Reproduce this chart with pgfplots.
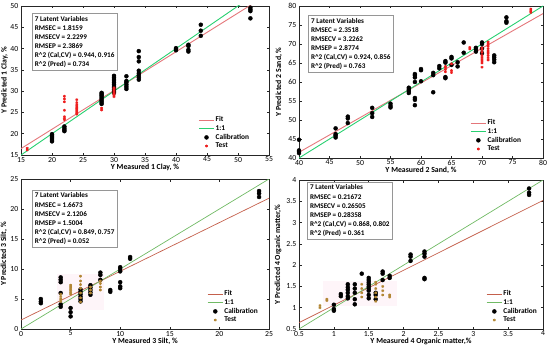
\documentclass[border=0pt]{standalone}
\usepackage{fontspec}
\setmainfont{Carlito}
\usepackage{pgfplots}
\pgfplotsset{compat=1.18}
\definecolor{fitA}{RGB}{228,118,122}
\definecolor{oneA}{RGB}{40,208,112}
\definecolor{testA}{RGB}{238,30,30}
\definecolor{fitB}{RGB}{196,96,76}
\definecolor{oneB}{RGB}{112,186,100}
\definecolor{testB}{RGB}{178,134,52}
\definecolor{boxgray}{RGB}{150,150,150}
\definecolor{pinkbg}{RGB}{254,245,249}
\pgfplotsset{
  panel/.style={
    scale only axis,
    axis line style={line width=0.6bp, black!85},
    tick align=inside,
    major tick length=2.5bp,
    tick style={line width=0.5bp, black!85},
    /pgf/number format/assume math mode=true,
    tick label style={font=\fontsize{7.8}{8}\selectfont},
    xticklabel style={inner sep=1.8bp},
    yticklabel style={inner sep=2.6bp},
    label style={font=\bfseries\fontsize{7.8}{9}\selectfont},
    legend cell align=left,
    legend style={draw=none, fill=none, font=\bfseries\fontsize{7.4}{8}\selectfont,
      row sep=0bp, inner sep=0bp, nodes={inner sep=1.1bp}},
    legend image code/.code={
      \draw[mark repeat=2,mark phase=2] plot coordinates {(0cm,0cm) (0.27cm,0cm) (0.54cm,0cm)};},
  },
  cal/.style={only marks, mark=*, mark size=2bp, black, mark options={fill=black}},
}
\tikzset{
  txtbox/.style={draw=boxgray, line width=0.8bp, fill=white, anchor=north west, align=left,
    font=\bfseries\fontsize{7.2}{9.1}\selectfont, inner sep=2.6bp},
}
\begin{document}
\begin{tikzpicture}[x=1bp,y=1bp]
\path[use as bounding box] (0,0) rectangle (550,349);
% ---------------- Panel 1: Clay
\begin{axis}[panel, at={(21bp,194bp)}, anchor=south west, width=248bp, height=149bp,
  xmin=15, xmax=55, ymin=15, ymax=50,
  xtick={15,20,...,55}, ytick={15,20,...,50},
  xlabel={Y Measured 1 Clay, \%}, ylabel={Y Predicted 1 Clay, \%},
  xlabel style={at={(axis description cs:0.5,-0.083)}, anchor=center},
  ylabel style={at={(axis description cs:-0.066,0.5)}, anchor=center},
  legend style={at={(axis description cs:0.925,0.03)}, anchor=south east}]
\addplot[fitA, line width=0.9bp] coordinates {(15,16.5) (55,52.9)};
\addlegendentry{Fit}
\addplot[oneA, line width=0.9bp] coordinates {(15,15) (55,55)};
\addlegendentry{1:1}
\addplot[cal] coordinates {
(20,18.2)(20,18.5)(20,18.8)(20,19.1)(20,19.4)(20,19.7)(20,19.9)
(22,20.6)(22,20.9)(22,21.3)(22,21.7)
(28,27.0)(28,27.4)(28,27.8)(28,28.2)(28,28.6)(28,29.0)(28,29.3)(28,29.6)
(30,29.6)(30,30.0)(30,30.4)(30,30.8)(30,31.2)(30,31.6)(30,32.0)(30,32.4)(30,32.8)(30,33.2)(30,33.6)
(32,30.5)(32,31.0)(32,31.5)(32,32.0)(32,32.4)(32,33.5)
(34,32.7)(34,33.2)(34,33.7)(34,34.2)(34,34.8)(34,37.0)(34,38.0)(34,39.4)
(40,39.6)(40,39.9)(40,40.1)
(42,39.3)(42,39.7)(42,40.6)(42,40.9)
(44,43.0)(44,44.2)(44,45.6)
(52,47.1)(52,48.8)(52,49.2)(52,49.6)};
\addlegendentry{Calibration}
\addplot[only marks, mark=asterisk, mark size=1.4bp, testA, line width=0.8bp] coordinates {
(16,16.2)(16,16.6)
(22,23.3)(22,23.6)(22,24.0)(22,25.5)(22,27.5)(22,28.2)(22,28.8)
(24,24.6)(24,24.9)(24,25.2)(24,25.5)(24,25.8)(24,26.1)(24,26.4)(24,26.8)(24,27.3)(24,28.0)
(28,25.6)(28,26.0)
(30,28.7)(30,29.0)(30,29.3)(30,29.6)(30,29.9)(30,30.2)(30,30.5)(30,30.8)};
\addlegendentry{Test}
\node[txtbox] at (rel axis cs:0.044,0.953) {7 Latent Variables\\RMSEC = 1.8159\\RMSECV = 2.2299\\RMSEP = 2.3869\\R\textasciicircum2 (Cal,CV) = 0.944, 0.916\\R\textasciicircum2 (Pred) = 0.734};
\end{axis}
% ---------------- Panel 2: Sand
\begin{axis}[panel, at={(299bp,191bp)}, anchor=south west, width=244bp, height=152bp,
  xmin=40, xmax=80, ymin=40, ymax=80,
  xtick={40,45,...,80}, ytick={40,45,...,80},
  xlabel={Y Measured 2 Sand, \%}, ylabel={Y Predicted 2 Sand, \%},
  xlabel style={at={(axis description cs:0.5,-0.084)}, anchor=center},
  ylabel style={at={(axis description cs:-0.082,0.5)}, anchor=center},
  legend style={at={(axis description cs:0.915,0.03)}, anchor=south east}]
\addplot[fitA, line width=0.9bp] coordinates {(40,41.5) (80,78)};
\addlegendentry{Fit}
\addplot[oneA, line width=0.9bp] coordinates {(40,40) (80,80)};
\addlegendentry{1:1}
\addplot[cal] coordinates {
(40,41.3)(40,41.7)(40,42.0)(40,44.8)
(46,45.4)(46,45.9)(46,46.3)(46,47.8)
(48,49.2)(48,50.4)(48,50.9)
(52,50.8)(52,51.8)(52,53.2)
(55,53.3)(55,53.7)(55,54.3)
(58,57.1)(58,57.6)(58,58.1)(58,58.5)
(59,53.9)(59,55.3)(59,55.8)(59,60.0)(59,61.2)(59,61.8)(59,62.1)
(60,60.2)(60,63.1)(60,63.4)
(62,57.3)(62,61.8)(62,62.4)
(63,63.6)(63,64.2)
(64,61.0)(64,61.3)(64,65.1)(64,65.5)
(65,64.5)(65,66.2)(65,66.6)
(66,64.1)(66,65.2)
(67,67.7)(67,70.4)
(69,68.0)(69,68.5)(69,69.0)
(70,67.6)(70,68.8)(70,70.0)(70,70.4)
(72,65.2)(72,65.9)(72,66.5)(72,67.0)
(74,75.6)(74,76.0)(74,77.0)};
\addlegendentry{Calibration}
\addplot[only marks, mark=asterisk, mark size=1.4bp, testA, line width=0.8bp] coordinates {
(64,62.7)(64,63.3)(64,63.8)(64,64.1)
(65,62.5)(65,63.0)(65,64.8)
(68,68.7)(68,69.1)
(70,63.9)(70,65.0)(70,65.5)(70,66.0)(70,66.5)(70,67.0)(70,67.8)(70,68.5)(70,69.0)
(71,65.8)(71,66.4)(71,67.0)(71,67.6)(71,68.2)(71,68.8)(71,69.5)(71,70.0)(71,70.5)
(78,78.3)(78,78.7)(78,79.2)};
\addlegendentry{Test}
\node[txtbox] at (rel axis cs:0.037,0.94) {7 Latent Variables\\RMSEC = 2.3518\\RMSECV = 3.2262\\RMSEP = 2.8774\\R\textasciicircum2 (Cal,CV) = 0.924, 0.856\\R\textasciicircum2 (Pred) = 0.763};
\end{axis}
% ---------------- Panel 3: Silt
\begin{axis}[panel, at={(21bp,20bp)}, anchor=south west, width=248bp, height=150bp,
  xmin=0, xmax=25, ymin=0, ymax=25,
  xtick={0,5,...,25}, ytick={0,5,...,25},
  xlabel={Y Measured 3 Silt, \%}, ylabel={Y Predicted 3 Silt, \%},
  xlabel style={at={(axis description cs:0.5,-0.082)}, anchor=center},
  ylabel style={at={(axis description cs:-0.069,0.5)}, anchor=center},
  legend style={at={(axis description cs:0.96,0.03)}, anchor=south east}]
\fill[pinkbg] (axis cs:3.6,3.2) rectangle (axis cs:8.4,9.2);
\addplot[fitB, line width=0.7bp] coordinates {(0,1.5) (25,21.8)};
\addlegendentry{Fit}
\addplot[oneB, line width=0.7bp] coordinates {(0,0) (25,25)};
\addlegendentry{1:1}
\addplot[cal] coordinates {
(2,4.3)(2,4.6)(2,5.0)
(4,3.7)(4,4.1)(4,6.0)(4,7.8)(4,8.2)(4,8.6)
(5,2.1)(5,2.8)(5,3.5)
(6,4.6)(6,5.0)(6,5.4)(6,5.8)(6,6.2)(6,6.6)
(7,5.7)(7,6.1)(7,6.5)(7,6.9)(7,7.3)
(8,8.2)(8,9.0)(8,9.4)
(9,6.2)(9,6.5)
(10,6.8)(10,7.1)(10,7.8)(10,9.6)(10,10.0)(10,10.3)
(11,11.7)(11,12.0)
(24,22.0)(24,22.6)(24,23.0)};
\addlegendentry{Calibration}
\addplot[only marks, mark=asterisk, mark size=1.4bp, testB, line width=0.8bp] coordinates {
(4,4.6)(4,5.0)(4,5.4)(4,5.8)
(5,5.8)(5,6.1)(5,6.4)(5,6.7)(5,7.0)(5,7.3)
(6,4.5)(6,5.2)(6,6.0)(6,6.8)(6,7.4)(6,8.0)(6,8.8)
(7,6.0)(7,6.5)(7,7.0)
(8,6.5)(8,7.0)(8,7.6)(8,8.0)};
\addlegendentry{Test}
\node[txtbox] at (rel axis cs:0.044,0.927) {7 Latent Variables\\RMSEC = 1.6673\\RMSECV = 2.1206\\RMSEP = 1.5004\\R\textasciicircum2 (Cal,CV) = 0.849, 0.757\\R\textasciicircum2 (Pred) = 0.052};
\end{axis}
% ---------------- Panel 4: Organic matter
\begin{axis}[panel, at={(299bp,20bp)}, anchor=south west, width=244bp, height=149bp,
  xmin=0.5, xmax=4, ymin=0.5, ymax=4,
  xtick={0.5,1,...,4}, ytick={0.5,1,...,4},
  xlabel={Y Measured 4 Organic matter,\%}, ylabel={Y Predicted 4 Organic matter,\%},
  xlabel style={at={(axis description cs:0.5,-0.082)}, anchor=center},
  ylabel style={at={(axis description cs:-0.086,0.5)}, anchor=center},
  legend style={at={(axis description cs:0.98,0.03)}, anchor=south east}]
\fill[pinkbg] (axis cs:0.85,1.05) rectangle (axis cs:1.9,1.62);
\addplot[fitB, line width=0.7bp] coordinates {(0.5,0.65) (4,3.52)};
\addlegendentry{Fit}
\addplot[oneB, line width=0.7bp] coordinates {(0.5,0.5) (4,4)};
\addlegendentry{1:1}
\addplot[cal] coordinates {
(1,0.93)(1,0.97)(1,1.07)
(1.1,1.27)(1.1,1.32)
(1.2,1.22)(1.2,1.27)(1.2,1.35)(1.2,1.42)(1.2,1.48)(1.2,1.55)
(1.3,1.08)(1.3,1.2)(1.3,1.35)(1.3,1.45)(1.3,1.55)
(1.4,1.8)
(1.5,1.22)(1.5,1.3)(1.5,1.4)(1.5,1.45)(1.5,1.5)(1.5,1.55)(1.5,1.6)(1.5,1.65)(1.5,1.7)
(1.6,1.2)(1.6,1.3)(1.6,1.35)
(1.7,1.65)(1.7,1.8)(1.7,1.85)
(1.8,1.7)(1.8,1.75)
(2.1,2.1)(2.1,2.2)(2.1,2.25)
(2.3,1.67)(2.3,1.7)(2.3,2.2)(2.3,2.27)(2.3,2.32)
(3.8,3.65)(3.8,3.7)(3.8,3.8)};
\addlegendentry{Calibration}
\addplot[only marks, mark=asterisk, mark size=1.4bp, testB, line width=0.8bp] coordinates {
(0.8,1.0)(0.8,1.05)
(0.9,1.17)(0.9,1.2)
(1.4,1.25)(1.4,1.35)(1.4,1.45)(1.4,1.55)
(1.6,1.15)(1.6,1.25)(1.6,1.35)(1.6,1.45)(1.6,1.55)(1.6,1.6)
(1.7,1.3)(1.7,1.4)(1.7,1.5)
(1.8,1.25)(1.8,1.3)};
\addlegendentry{Test}
\node[txtbox] at (rel axis cs:0.033,0.987) {7 Latent Variables\\RMSEC = 0.21672\\RMSECV = 0.26505\\RMSEP = 0.28358\\R\textasciicircum2 (Cal,CV) = 0.868, 0.802\\R\textasciicircum2 (Pred) = 0.361};
\end{axis}
\end{tikzpicture}
\end{document}
